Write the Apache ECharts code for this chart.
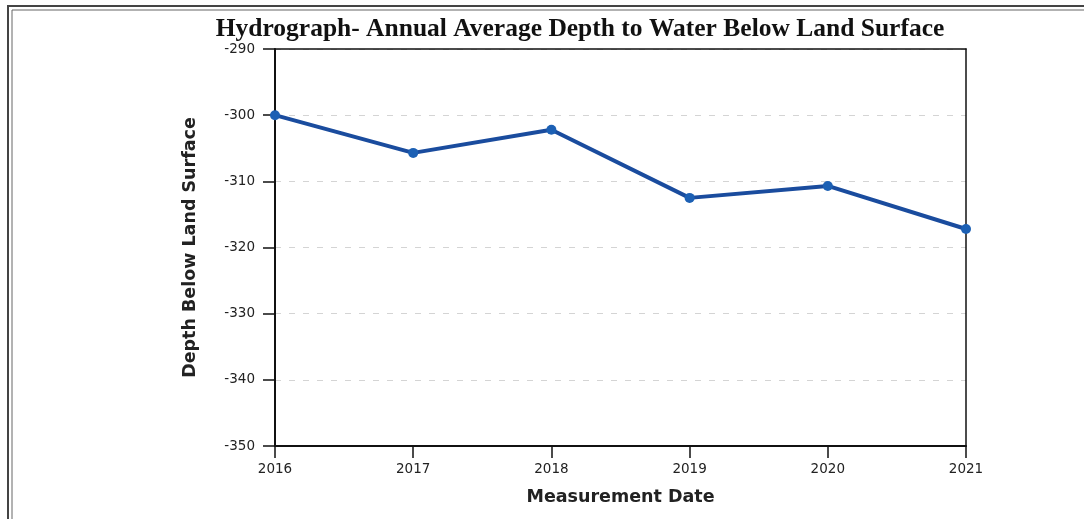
<!DOCTYPE html>
<html>
<head>
<meta charset="utf-8">
<script src="https://cdn.jsdelivr.net/npm/echarts@6/dist/echarts.min.js"></script>
<style>
  html, body { margin: 0; padding: 0; background: #fff; }
  #chart { width: 1084px; height: 519px; }
</style>
</head>
<body>
<div id="chart"></div>
<script>
// measurement years (x axis)
const years = ['2016', '2017', '2018', '2019', '2020', '2021'];
// annual average depth to water below land surface
const depth = [-300.0, -305.7, -302.2, -312.5, -310.7, -317.2];

const chart = echarts.init(document.getElementById('chart'));

const axisFont = {
  fontFamily: 'DejaVu Sans',
  fontSize: 13.5,
  color: '#222'
};
const nameFont = {
  fontFamily: 'DejaVu Sans',
  fontWeight: 'bold',
  fontSize: 17.5,
  color: '#222'
};

const option = {
  backgroundColor: '#ffffff',
  title: {
    text: 'Hydrograph- Annual Average Depth to Water Below Land Surface',
    left: 575,
    textAlign: 'center',
    top: 11,
    textStyle: {
      fontFamily: 'Liberation Serif',
      fontWeight: 'bold',
      fontSize: 25.5,
      color: '#111'
    }
  },
  grid: {
    left: 275,
    right: 118,
    top: 49,
    bottom: 73
  },
  xAxis: [{
    type: 'category',
    data: years,
    boundaryGap: false,
    name: 'Measurement Date',
    nameLocation: 'middle',
    nameGap: 42,
    nameTextStyle: nameFont,
    axisLine: { lineStyle: { color: '#111', width: 2 } },
    axisTick: { length: 12, lineStyle: { color: '#111', width: 1.5 } },
    axisLabel: Object.assign({ margin: 16 }, axisFont),
    splitLine: { show: false }
  }, {
    // top frame line
    type: 'category',
    data: years,
    boundaryGap: false,
    position: 'top',
    axisLine: { lineStyle: { color: '#111', width: 1.5 } },
    axisTick: { show: false },
    axisLabel: { show: false },
    splitLine: { show: false }
  }],
  yAxis: [{
    type: 'value',
    min: -350,
    max: -290,
    interval: 10,
    name: 'Depth Below Land Surface',
    nameLocation: 'middle',
    nameGap: 76,
    nameTextStyle: nameFont,
    axisLine: { show: true, lineStyle: { color: '#111', width: 2 } },
    axisTick: { show: true, length: 12, lineStyle: { color: '#111', width: 1.5 } },
    axisLabel: Object.assign({ margin: 20 }, axisFont),
    splitLine: {
      show: true,
      lineStyle: { color: '#d4d4d4', type: [6, 8], width: 1 }
    }
  }, {
    // right frame line
    type: 'value',
    min: -350,
    max: -290,
    interval: 10,
    position: 'right',
    axisLine: { show: true, lineStyle: { color: '#111', width: 1.5 } },
    axisTick: { show: false },
    axisLabel: { show: false },
    splitLine: { show: false }
  }],
  series: [{
    type: 'line',
    data: depth,
    symbol: 'circle',
    symbolSize: 10,
    lineStyle: { color: '#1a4c9e', width: 4 },
    itemStyle: { color: '#1c60b4' },
    silent: true,
    z: 5
  }],
  graphic: [
    // page border (double rule, top and left)
    {
      type: 'polyline',
      shape: { points: [[8, 519], [8, 6], [1084, 6]] },
      style: { stroke: '#444', lineWidth: 2, fill: null }
    },
    {
      type: 'polyline',
      shape: { points: [[12, 519], [12, 10], [1084, 10]] },
      style: { stroke: '#666', lineWidth: 1, fill: null }
    }
  ]
};

chart.setOption(option);
</script>
</body>
</html>
